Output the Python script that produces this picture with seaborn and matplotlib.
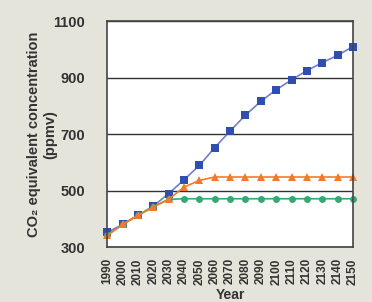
import pandas as pd
import matplotlib
matplotlib.use("Agg")
import matplotlib.pyplot as plt
import seaborn as sns

# data
years = [1990, 2000, 2010, 2020, 2030, 2040, 2050, 2060, 2070, 2080,
         2090, 2100, 2110, 2120, 2130, 2140, 2150]
baseline = [352, 380, 412, 445, 489, 538, 589, 652, 711, 767,
            816, 857, 892, 925, 953, 979, 1010]
stab_550 = [341, 380, 412, 442, 469, 512, 536, 548, 548, 548,
            548, 548, 548, 548, 548, 548, 548]
stab_475 = [341, 380, 412, 442, 469, 471, 471, 471, 471, 471,
            471, 471, 471, 471, 471, 471, 471]
y_ticks = [300, 500, 700, 900, 1100]

df = pd.concat([
    pd.DataFrame({"year": years, "ppmv": baseline, "scenario": "baseline"}),
    pd.DataFrame({"year": years, "ppmv": stab_475, "scenario": "475"}),
    pd.DataFrame({"year": years, "ppmv": stab_550, "scenario": "550"}),
])

bg = "#e4e4da"
txt = "#333333"
sns.set_theme(style="white")
plt.rcParams["font.family"] = ["Liberation Sans", "DejaVu Sans"]

fig = plt.figure(figsize=(3.72, 3.02), dpi=100, facecolor=bg)
ax = fig.add_axes([0.288, 0.182, 0.661, 0.748])
ax.set_facecolor("white")

ax.grid(axis="y", color="#333333", linewidth=1.0)
ax.set_axisbelow(True)

sns.lineplot(data=df, x="year", y="ppmv", hue="scenario", style="scenario",
             palette={"baseline": "#2f4fb0", "475": "#3aa676", "550": "#f47a2a"},
             markers={"baseline": "s", "475": "o", "550": "^"},
             dashes=False, markersize=6, markeredgewidth=0, linewidth=1.2,
             legend=False, ax=ax, clip_on=False)
# lighter connecting line for the blue series, smaller green dots
for line in ax.lines:
    if line.get_color() == "#2f4fb0":
        line.set_color("#7080c8")
        line.set_markerfacecolor("#2f4fb0")
    elif line.get_color() == "#3aa676":
        line.set_markersize(5)

ax.set_xlim(1990, 2150)
ax.set_ylim(300, 1100)
ax.set_yticks(y_ticks)
ax.set_xticks(years)
ax.set_xticklabels([str(y) for y in years], rotation=90, fontsize=8.5,
                   fontweight="bold", color=txt)
ax.set_yticklabels([str(v) for v in y_ticks], fontsize=10.5, fontweight="bold",
                   color=txt)
ax.tick_params(axis="x", direction="in", length=4, width=1, color="#333333", pad=8)
ax.tick_params(axis="y", length=0, pad=16)

for s in ax.spines.values():
    s.set_color("#444444")
    s.set_linewidth(1.2)

ax.set_xlabel("Year", fontsize=10, fontweight="bold", color=txt, labelpad=2.5)
ax.set_ylabel("CO₂ equivalent concentration\n(ppmv)", fontsize=10.5,
              fontweight="bold", color=txt, labelpad=-3, linespacing=1.25)

fig.savefig("out.png", dpi=100, facecolor=bg)
